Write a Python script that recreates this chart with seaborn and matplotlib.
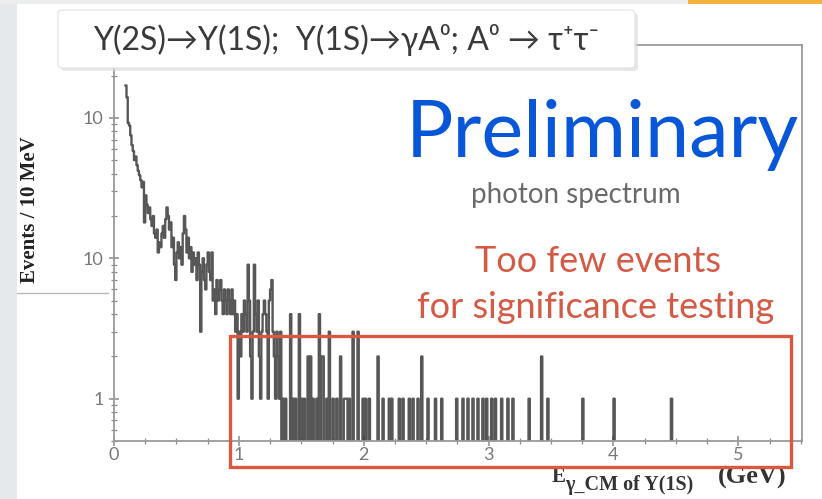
import numpy as np
import pandas as pd
import matplotlib
matplotlib.use("Agg")
import matplotlib.pyplot as plt
import seaborn as sns
from matplotlib.patches import FancyBboxPatch, Rectangle
from matplotlib.ticker import FixedLocator, FixedFormatter, NullFormatter, MultipleLocator

# ---------------- data (10 MeV bins, left edge in GeV, counts) ----------------
dense_edges = [round(0.09 + 0.01 * i, 2) for i in range(124)]  # 0.09 .. 1.32
dense_counts = [170, 140, 92, 88, 75, 64, 58, 50, 53, 46,
                42, 39, 36, 32, 35, 18, 28, 24, 21, 23,
                19, 17, 20, 15, 14, 16, 11, 13, 12, 15,
                17, 14, 19, 23, 20, 16, 18, 12, 14, 9,
                7, 11, 13, 10, 12, 9, 15, 20, 16, 11,
                14, 10, 12, 8, 11, 9, 10, 7, 11, 9,
                3, 8, 10, 7, 6, 9, 11, 8, 7, 11,
                5, 6, 4, 7, 5, 6, 7, 5, 4, 6,
                5, 4, 6, 5, 4, 6, 4, 5, 3, 4,
                1, 3, 2, 4, 3, 5, 4, 3, 9, 5,
                2, 1, 3, 9, 4, 3, 5, 2, 1, 3,
                4, 5, 4, 3, 1, 5, 6, 7, 3, 2,
                1, 3, 2, 1]
sparse_edges = [1.33, 1.35, 1.37, 1.41, 1.43, 1.45, 1.48, 1.50, 1.52, 1.55,
                1.57, 1.59, 1.62, 1.64, 1.66, 1.67, 1.70, 1.72, 1.75, 1.78,
                1.81, 1.84, 1.85, 1.86, 1.88, 1.91, 1.95, 1.99, 2.01, 2.04,
                2.11, 2.15, 2.20, 2.22, 2.28, 2.31, 2.36, 2.39, 2.43, 2.46,
                2.51, 2.57, 2.62, 2.74, 2.79, 2.83, 2.87, 2.91, 2.95, 2.98,
                3.02, 3.05, 3.10, 3.15, 3.19, 3.32, 3.42, 3.47, 3.75, 4.00,
                4.46]
sparse_counts = [3, 1, 1, 4, 1, 1, 4, 1, 1, 2,
                 2, 1, 1, 4, 2, 2, 1, 3, 1, 1,
                 2, 1, 1, 1, 1, 3, 3, 1, 1, 1,
                 2, 1, 1, 1, 1, 1, 1, 1, 1, 2,
                 1, 1, 1, 1, 1, 1, 1, 1, 1, 1,
                 1, 1, 1, 1, 1, 1, 2, 1, 1, 1,
                 1]

y_ticks = [1, 10, 100]
y_ticklabels = ["1", "10", "10"]
x_ticks = [0, 1, 2, 3, 4, 5]
x_ticklabels = ["0", "1", "2", "3", "4", "5"]

title_text = "Υ(2S)→Υ(1S);  Υ(1S)→γA⁰; A⁰ → τ⁺τ⁻"
prelim_text = "Preliminary"
sub_text = "photon spectrum"
note_lines = ["Too few events", "for significance testing"]
ylabel_text = "Events / 10 MeV"

df = pd.DataFrame({
    "E": [e + 0.005 for e in dense_edges + sparse_edges],
    "n": dense_counts + sparse_counts,
})

# ---------------- figure ----------------
sns.set_theme(style="white")
plt.rcParams["font.family"] = ["Lato", "DejaVu Sans"]

W, H = 822, 499
fig = plt.figure(figsize=(W / 100, H / 100), dpi=100)

def fx(x):
    return x / W

def fy(y):
    return 1 - y / H

# slide background bits
fig.patches.append(Rectangle((0, 0), fx(17), 1, transform=fig.transFigure,
                             facecolor="#e6e9eb", edgecolor="none", zorder=0))
fig.patches.append(Rectangle((0, fy(4)), fx(688), 4 / H, transform=fig.transFigure,
                             facecolor="#eceeee", edgecolor="none", zorder=0))
fig.patches.append(Rectangle((fx(688), fy(4)), fx(822 - 688), 4 / H, transform=fig.transFigure,
                             facecolor="#f4b23c", edgecolor="none", zorder=0))
fig.lines.append(plt.Line2D([fx(17), fx(108)], [fy(293), fy(293)], transform=fig.transFigure,
                            color="#b8b8b8", lw=1.0))

ax = fig.add_axes([fx(114), fy(441), fx(802 - 114), (441 - 45) / H])
bins = [round(b, 2) for b in np.arange(0.09, 5.505, 0.01)]
sns.histplot(data=df, x="E", weights="n", bins=bins, element="step", fill=False,
             color="#3a3a3a", linewidth=1.7, alpha=0.85, ax=ax)
ax.set_yscale("log")
ax.set_xlim(0, 5.51)
ax.set_ylim(0.5, 330)
ax.set_xlabel("")
ax.set_ylabel("")

ax.yaxis.set_major_locator(FixedLocator(y_ticks))
ax.yaxis.set_major_formatter(FixedFormatter(y_ticklabels))
ax.yaxis.set_minor_locator(FixedLocator([m * d for d in (0.1, 1, 10, 100) for m in range(2, 10)]))
ax.yaxis.set_minor_formatter(NullFormatter())
ax.xaxis.set_major_locator(FixedLocator(x_ticks))
ax.xaxis.set_major_formatter(FixedFormatter(x_ticklabels))
ax.xaxis.set_minor_locator(MultipleLocator(0.25))
ax.tick_params(axis="both", which="both", direction="inout", colors="#8a8a8a",
               labelcolor="#777777", labelsize=13, bottom=True, left=True,
               top=False, right=False)
ax.tick_params(axis="both", which="major", length=7, width=1.1)
ax.tick_params(axis="both", which="minor", length=4, width=0.9)
ax.tick_params(axis="x", pad=1)
ax.tick_params(axis="y", pad=4)
for s in ax.spines.values():
    s.set_color("#9a9a9a")
    s.set_linewidth(1.3)

# title box with shadow
fig.patches.append(FancyBboxPatch((fx(61), fy(71)), fx(577), (71 - 13) / H,
                                  boxstyle="round,pad=0,rounding_size=0.006",
                                  transform=fig.transFigure, facecolor="#d8d8d8",
                                  edgecolor="none", alpha=0.6, zorder=5))
fig.patches.append(FancyBboxPatch((fx(58), fy(68)), fx(577), (68 - 10) / H,
                                  boxstyle="round,pad=0,rounding_size=0.006",
                                  transform=fig.transFigure, facecolor="white",
                                  edgecolor="#e2e2e2", lw=0.8, zorder=6))
fig.text(fx(346), fy(40), title_text, ha="center", va="center", fontsize=23,
         color="#3a3a3a", zorder=7)

fig.text(fx(602), fy(157), prelim_text, ha="center", va="baseline", fontsize=57,
         color="#0757d8", zorder=7)
fig.text(fx(576), fy(195), sub_text, ha="center", va="center", fontsize=20,
         color="#6a6a6a", zorder=7)
fig.text(fx(598), fy(262), note_lines[0], ha="center", va="center", fontsize=26,
         color="#d45a45", zorder=7)
fig.text(fx(596), fy(307), note_lines[1], ha="center", va="center", fontsize=26,
         color="#d45a45", zorder=7)

fig.patches.append(Rectangle((fx(230), fy(467)), fx(791 - 230), (467 - 336) / H,
                             transform=fig.transFigure, facecolor="none",
                             edgecolor="#d9583f", lw=2.4, zorder=8))

# axis titles
serif = ["Liberation Serif", "DejaVu Serif"]
fig.text(fx(30), fy(210), ylabel_text, rotation=90, ha="center", va="center",
         fontsize=15, fontweight="bold", family=serif, color="#222222")
fig.text(fx(552), fy(482), "E", ha="left", va="baseline", fontsize=15, fontweight="bold",
         family=serif, color="#333333")
fig.text(fx(565), fy(490), "γ_CM of Υ(1S)", ha="left", va="baseline", fontsize=14.5,
         fontweight="bold", family=serif, color="#333333")
fig.text(fx(718), fy(484), "(GeV)", ha="left", va="baseline", fontsize=19, fontweight="bold",
         family=serif, color="#333333")

fig.savefig("out.png", dpi=100)
